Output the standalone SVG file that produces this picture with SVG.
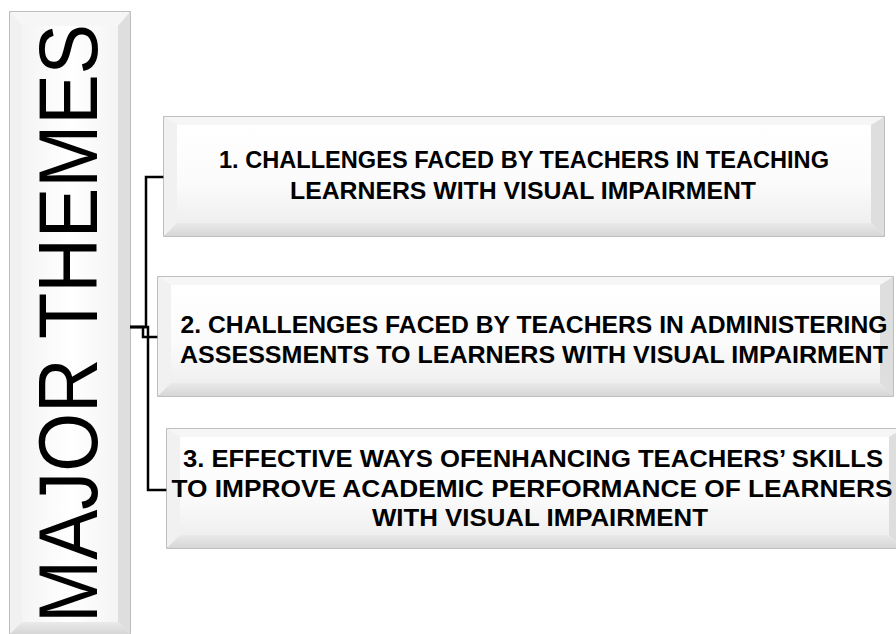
<svg xmlns="http://www.w3.org/2000/svg" width="896" height="634" viewBox="0 0 896 634">
<defs>
<linearGradient id="face" x1="0" y1="0" x2="0" y2="1">
<stop offset="0" stop-color="#ffffff"/>
<stop offset="0.6" stop-color="#fbfbfb"/>
<stop offset="1" stop-color="#efefef"/>
</linearGradient>
<linearGradient id="faceV" x1="0" y1="0" x2="1" y2="0">
<stop offset="0" stop-color="#f4f4f4"/>
<stop offset="0.5" stop-color="#ffffff"/>
<stop offset="1" stop-color="#f4f4f4"/>
</linearGradient>
<linearGradient id="botBev" x1="0" y1="0" x2="0" y2="1">
<stop offset="0" stop-color="#eaeaea"/>
<stop offset="1" stop-color="#d6d6d6"/>
</linearGradient>
</defs>
<style>
.outer{fill:#f0f0f0;stroke:#a9a9a9;stroke-width:1.5}
.top{fill:#f6f6f6}
.left{fill:#f1f1f1}
.right{fill:#dedede}
.bot{fill:url(#botBev)}
.inner{fill:url(#face)}
.lbl{font-family:"Liberation Sans",Arial,sans-serif;font-weight:bold;font-size:23px;fill:#000;text-anchor:middle}
.title{font-family:"Liberation Sans",Arial,sans-serif;font-size:84px;fill:#000}
.conn{fill:none;stroke:#000;stroke-width:2.5}
</style>
<rect width="896" height="634" fill="#ffffff"/>
<g id="major-themes">
<rect class="outer" x="10" y="12" width="120" height="630"/>
<polygon class="top" points="10,12 130,12 118,26 22,26"/>
<polygon class="left" points="10,12 22,26 22,622 10,634"/>
<polygon class="right" points="130,12 118,26 118,622 130,634"/>
<polygon class="bot" points="10,634 22,622 118,622 130,634"/>
<rect x="22" y="26" width="96" height="596" fill="url(#faceV)"/>
<text class="title" transform="translate(97,623) rotate(-90)" textLength="599" lengthAdjust="spacingAndGlyphs">MAJOR THEMES</text>
</g>
<g id="connectors">
<path class="conn" d="M130,327 H146 V177 H164"/>
<path class="conn" d="M130,327 H143 V337 H158"/>
<path class="conn" d="M130,327 H148 V490 H167"/>
</g>
<g id="theme1">
<rect class="outer" x="164" y="117" width="720" height="119"/>
<polygon class="top" points="164,117 884,117 871,125 177,125"/>
<polygon class="left" points="164,117 177,125 177,223 164,236"/>
<polygon class="right" points="884,117 871,125 871,223 884,236"/>
<polygon class="bot" points="164,236 177,223 871,223 884,236"/>
<rect class="inner" x="177" y="125" width="694" height="98"/>
<text class="lbl" x="524" y="168" textLength="610" lengthAdjust="spacingAndGlyphs">1. CHALLENGES FACED BY TEACHERS IN TEACHING</text>
<text class="lbl" x="523" y="199" textLength="466" lengthAdjust="spacingAndGlyphs">LEARNERS WITH VISUAL IMPAIRMENT</text>
</g>
<g id="theme2">
<rect class="outer" x="158" y="277" width="735" height="119"/>
<polygon class="top" points="158,277 893,277 880,285 171,285"/>
<polygon class="left" points="158,277 171,285 171,383 158,396"/>
<polygon class="right" points="893,277 880,285 880,383 893,396"/>
<polygon class="bot" points="158,396 171,383 880,383 893,396"/>
<rect class="inner" x="171" y="285" width="709" height="98"/>
<text class="lbl" x="534" y="333" textLength="707" lengthAdjust="spacingAndGlyphs">2. CHALLENGES FACED BY TEACHERS IN ADMINISTERING</text>
<text class="lbl" x="534" y="363" textLength="708" lengthAdjust="spacingAndGlyphs">ASSESSMENTS TO LEARNERS WITH VISUAL IMPAIRMENT</text>
</g>
<g id="theme3">
<rect class="outer" x="167" y="429" width="735" height="119"/>
<polygon class="top" points="167,429 902,429 889,437 180,437"/>
<polygon class="left" points="167,429 180,437 180,535 167,548"/>
<polygon class="right" points="902,429 889,437 889,535 902,548"/>
<polygon class="bot" points="167,548 180,535 889,535 902,548"/>
<rect class="inner" x="180" y="437" width="709" height="98"/>
<text class="lbl" x="533" y="467" textLength="700" lengthAdjust="spacingAndGlyphs">3. EFFECTIVE WAYS OFENHANCING TEACHERS’ SKILLS</text>
<text class="lbl" x="532" y="497" textLength="721" lengthAdjust="spacingAndGlyphs">TO IMPROVE ACADEMIC PERFORMANCE OF LEARNERS</text>
<text class="lbl" x="540" y="526" textLength="336" lengthAdjust="spacingAndGlyphs">WITH VISUAL IMPAIRMENT</text>
</g>
</svg>
